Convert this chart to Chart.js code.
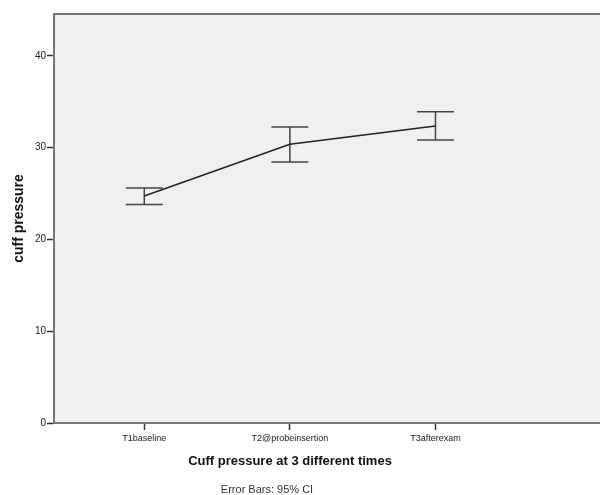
<!DOCTYPE html>
<html>
<head>
<meta charset="utf-8">
<script src="https://cdn.jsdelivr.net/npm/chart.js@4.4.1/dist/chart.umd.min.js"></script>
<style>
  html, body { margin: 0; padding: 0; background: #fff; }
  #grafico { display: block; }
</style>
</head>
<body>
<canvas id="grafico" width="600" height="495"></canvas>
<script>
// valores (SPSS, barras de erro IC 95%)
const categorias = ['T1baseline', 'T2@probeinsertion', 'T3afterexam']
const medias = [24.72, 30.37, 32.36]
const limiteInferior = [23.79, 28.43, 30.83]
const limiteSuperior = [25.60, 32.25, 33.89]
const ticksY = [0, 10, 20, 30, 40]

const fonte = "'Liberation Sans', Arial, sans-serif"

const fundoPlot = {
  id: 'fundoPlot',
  beforeDraw(chart) {
    const { ctx, chartArea: a } = chart
    ctx.save()
    ctx.fillStyle = '#f0f0f0'
    ctx.fillRect(a.left, a.top, a.right - a.left, a.bottom - a.top)
    ctx.restore()
  },
  afterDraw(chart) {
    const { ctx, chartArea: a } = chart
    ctx.save()
    // borda superior
    ctx.strokeStyle = '#777'
    ctx.lineWidth = 2
    ctx.beginPath()
    ctx.moveTo(a.left, a.top)
    ctx.lineTo(a.right, a.top)
    ctx.stroke()

    ctx.fillStyle = '#111'
    ctx.textAlign = 'center'
    ctx.textBaseline = 'middle'
    ctx.font = 'bold 13px ' + fonte
    ctx.fillText('Cuff pressure at 3 different times', 290, 461)
    ctx.font = '11px ' + fonte
    ctx.fillStyle = '#333'
    ctx.fillText('Error Bars: 95% CI', 267, 490)

    ctx.translate(19, (a.top + a.bottom) / 2)
    ctx.rotate(-Math.PI / 2)
    ctx.fillStyle = '#111'
    ctx.font = 'bold 14px ' + fonte
    ctx.fillText('cuff pressure', 0, 0)
    ctx.restore()
  }
}

const barrasErro = {
  id: 'barrasErro',
  beforeDatasetsDraw(chart) {
    const { ctx, scales: { x, y } } = chart
    ctx.save()
    ctx.strokeStyle = '#444'
    ctx.lineWidth = 1.5
    categorias.forEach((c, i) => {
      const px = x.getPixelForValue(i)
      const yl = y.getPixelForValue(limiteInferior[i])
      const yu = y.getPixelForValue(limiteSuperior[i])
      ctx.beginPath()
      ctx.moveTo(px, yl)
      ctx.lineTo(px, yu)
      ctx.moveTo(px - 18.5, yl)
      ctx.lineTo(px + 18.5, yl)
      ctx.moveTo(px - 18.5, yu)
      ctx.lineTo(px + 18.5, yu)
      ctx.stroke()
    })
    ctx.restore()
  }
}

new Chart(document.getElementById('grafico'), {
  type: 'line',
  data: {
    datasets: [{
      label: 'cuff pressure',
      data: medias.map((v, i) => ({ x: i, y: v })),
      borderColor: '#222',
      borderWidth: 1.5,
      pointRadius: 0,
      tension: 0,
      fill: false
    }]
  },
  options: {
    responsive: false,
    animation: false,
    layout: { padding: { top: 14, right: 0, bottom: 0, left: 0 } },
    plugins: {
      legend: { display: false },
      tooltip: { enabled: false }
    },
    scales: {
      x: {
        type: 'linear',
        min: -0.62,
        max: 3.13,
        afterBuildTicks: scale => { scale.ticks = categorias.map((c, i) => ({ value: i })) },
        afterFit: scale => { scale.height = 72 },
        ticks: {
          callback: v => categorias[v],
          font: { family: fonte, size: 9 },
          color: '#222',
          padding: 3,
          maxRotation: 0
        },
        grid: { drawOnChartArea: false, tickLength: 7, color: '#333', tickWidth: 1.5 },
        border: { color: '#777', width: 2 }
      },
      y: {
        min: 0,
        max: 44.55,
        afterBuildTicks: scale => { scale.ticks = ticksY.map(v => ({ value: v })) },
        afterFit: scale => { scale.width = 54 },
        ticks: {
          font: { family: fonte, size: 10 },
          color: '#222',
          padding: 1
        },
        grid: { drawOnChartArea: false, tickLength: 7, color: '#333', tickWidth: 1.5 },
        border: { color: '#777', width: 2 }
      }
    }
  },
  plugins: [fundoPlot, barrasErro]
})
</script>
</body>
</html>
